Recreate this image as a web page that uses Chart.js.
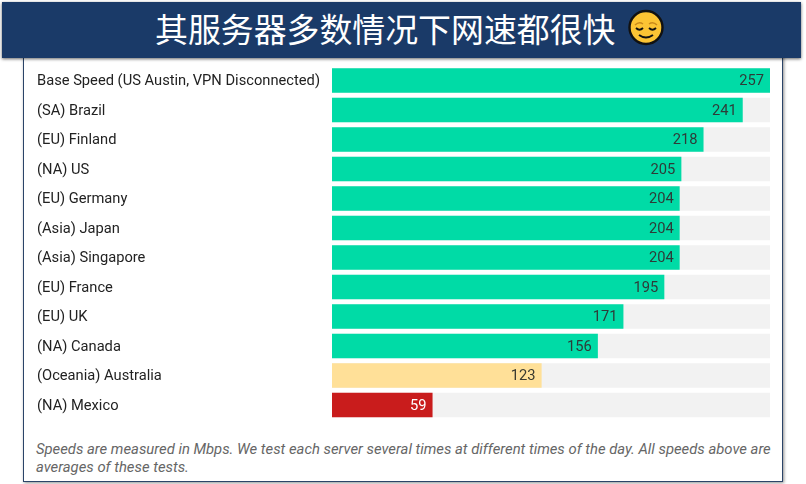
<!DOCTYPE html>
<html>
<head>
<meta charset="utf-8">
<title>Speed chart</title>
<script src="https://cdn.jsdelivr.net/npm/chart.js@4/dist/chart.umd.min.js"></script>
<style>
html, body { margin: 0; padding: 0; background: #fff; }
body { width: 806px; height: 484px; position: relative; overflow: hidden; }
#frame {
	position: absolute; left: 23px; top: 40px; width: 758px; height: 440px;
	border: 1px solid #2b4468; box-shadow: 1px 1px 3px rgba(0,0,0,.45);
}
#banner {
	position: absolute; left: 2px; top: 2px; width: 799px; height: 56px;
	background: #1a3a68; box-shadow: 0 1px 3px rgba(0,0,0,.6);
	color: #fff; font: 32.9px/52px "Noto Sans CJK SC", sans-serif;
}
#banner span { position: absolute; left: 153px; top: 0; white-space: nowrap; }
#banner svg { position: absolute; left: 626px; top: 7px; }
#chartBox { position: absolute; left: 24px; top: 62px; width: 758px; height: 362px; }
#note {
	position: absolute; left: 36px; top: 441px; width: 745px; margin: 0;
	font: italic 14.83px/17.5px Roboto, sans-serif; color: #666; white-space: nowrap;
}
</style>
</head>
<body>
<div id="frame"></div>
<div id="banner">
	<span>其服务器多数情况下网速都很快</span>
	<svg width="36" height="37" viewBox="0 0 36 37">
		<circle cx="18" cy="18.5" r="16.5" fill="#fcc434" stroke="#111" stroke-width="2.4"/>
		<path d="M7 16 q4 -4 8 -1 M21 15 q4 -3 8 1" fill="none" stroke="#c98a1a" stroke-width="1.5"/>
		<path d="M8 19 q3.5 3.5 7 0 M21 19 q3.5 3.5 7 0" fill="none" stroke="#111" stroke-width="1.8"/>
		<path d="M11 26 q7 5 14 0" fill="none" stroke="#111" stroke-width="2"/>
	</svg>
</div>
<div id="chartBox"><canvas id="speeds"></canvas></div>
<p id="note">Speeds are measured in Mbps. We test each server several times at different times of the day. All speeds above are<br>averages of these tests.</p>

<script>
var categories = [
	'Base Speed (US Austin, VPN Disconnected)', '(SA) Brazil', '(EU) Finland', '(NA) US',
	'(EU) Germany', '(Asia) Japan', '(Asia) Singapore', '(EU) France', '(EU) UK',
	'(NA) Canada', '(Oceania) Australia', '(NA) Mexico'
];
var speeds = [257, 241, 218, 205, 204, 204, 204, 195, 171, 156, 123, 59];
var track = [257, 257, 257, 257, 257, 257, 257, 257, 257, 257, 257, 257];
var barColors = [
	'#00dba6', '#00dba6', '#00dba6', '#00dba6', '#00dba6', '#00dba6',
	'#00dba6', '#00dba6', '#00dba6', '#00dba6', '#ffe098', '#c91c1c'
];
var valueColors = [
	'#2e3b38', '#2e3b38', '#2e3b38', '#2e3b38', '#2e3b38', '#2e3b38',
	'#2e3b38', '#2e3b38', '#2e3b38', '#2e3b38', '#3a3a30', '#ffffff'
];

// value labels inside the end of each bar
var barValues = {
	id: 'barValues',
	afterDatasetsDraw: function(chart) {
		var ctx = chart.ctx;
		var bars = chart.getDatasetMeta(0).data;
		ctx.save();
		ctx.font = '14.7px Roboto';
		ctx.textAlign = 'right';
		ctx.textBaseline = 'middle';
		bars.forEach(function(bar, i) {
			ctx.fillStyle = valueColors[i];
			ctx.fillText(speeds[i], bar.x - 6, bar.y + 1);
		});
		ctx.restore();
	}
};

new Chart(document.getElementById('speeds').getContext('2d'), {
	type: 'bar',
	data: {
		labels: categories,
		datasets: [
			{ data: speeds, backgroundColor: barColors, order: 1 },
			{ data: track, backgroundColor: '#f2f2f2', order: 2 }
		]
	},
	options: {
		indexAxis: 'y',
		responsive: true,
		maintainAspectRatio: false,
		animation: false,
		events: [],
		layout: { padding: { top: 3.75, bottom: 4.25, right: 12, left: 13 } },
		datasets: { bar: { grouped: false, barPercentage: 1, categoryPercentage: 0.83 } },
		plugins: { legend: { display: false }, tooltip: { enabled: false } },
		scales: {
			x: { display: false, min: 0, max: 257 },
			y: {
				afterFit: function(scale) {
					// fixed label column, no extra room for the first and last label
					scale.width = 295;
					scale.paddingTop = 0;
					scale.paddingBottom = 0;
				},
				grid: { display: false },
				border: { display: false },
				ticks: {
					crossAlign: 'far',
					padding: 0,
					labelOffset: 1,
					color: '#222',
					autoSkip: false,
					font: { family: 'Roboto', size: 14.7 }
				}
			}
		}
	},
	plugins: [barValues]
});
</script>
</body>
</html>
